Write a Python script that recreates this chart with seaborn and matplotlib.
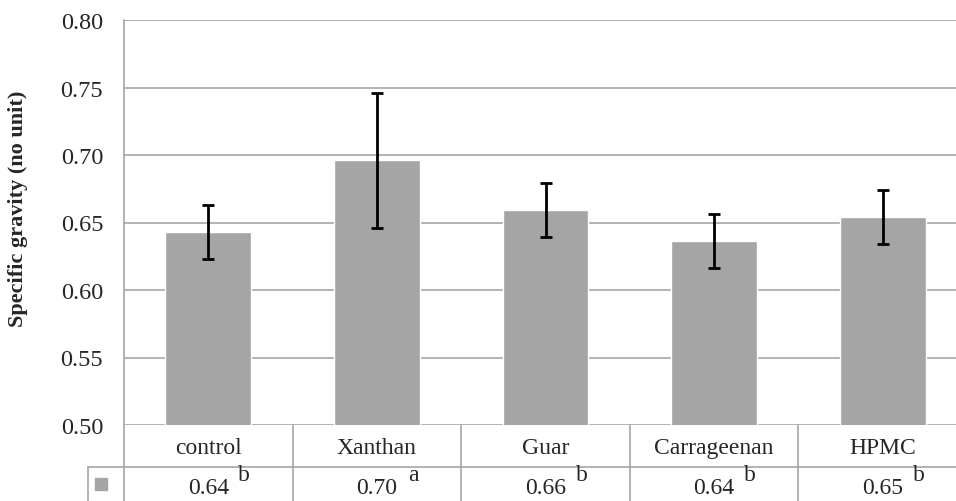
import numpy as np
import pandas as pd
import matplotlib
matplotlib.use("Agg")
import matplotlib.pyplot as plt
import seaborn as sns
from matplotlib.lines import Line2D
from matplotlib.patches import Rectangle

# data
categories = ["control", "Xanthan", "Guar", "Carrageenan", "HPMC"]
means = [0.643, 0.696, 0.659, 0.636, 0.654]
errors = [0.020, 0.050, 0.020, 0.020, 0.020]
table_values = ["0.64", "0.70", "0.66", "0.64", "0.65"]
letters = ["b", "a", "b", "b", "b"]
yticks = [0.50, 0.55, 0.60, 0.65, 0.70, 0.75, 0.80]

sns.set_theme(style="white")
plt.rcParams["font.family"] = ["Liberation Serif", "DejaVu Serif"]

W, H = 956, 502
fig = plt.figure(figsize=(W / 100, H / 100), dpi=100)

# plot area in pixels (right side runs past the image edge, like the source)
left, right, top, bottom = 124, 967, 21, 426
ax = fig.add_axes([left / W, 1 - bottom / H, (right - left) / W, (bottom - top) / H])

bar_color = "#A5A5A5"
grid_color = "#A6A6A6"

df = pd.DataFrame({"treatment": categories, "sg": means})
sns.barplot(data=df, x="treatment", y="sg", color=bar_color, width=0.51,
            saturation=1, errorbar=None, ax=ax, zorder=2)
ax.errorbar(np.arange(len(categories)), means, yerr=errors, fmt="none",
            ecolor="black", elinewidth=2, capsize=4, capthick=2, zorder=3)

ax.set_xlim(-0.5, len(categories) - 0.5)
ax.set_ylim(0.5, 0.8)
ax.set_yticks(yticks)
ax.set_yticklabels([f"{t:.2f}" for t in yticks], fontsize=17.5)
ax.tick_params(axis="y", length=0, pad=15)
ax.set_xticks([])
ax.set_xlabel("")
ax.set_ylabel("")
for t in yticks:
    ax.axhline(t, color=grid_color, lw=1.2, zorder=1)
for s in ["top", "right", "bottom"]:
    ax.spines[s].set_visible(False)
ax.spines["left"].set_color(grid_color)
ax.spines["left"].set_linewidth(1.2)

fig.text(18 / W, 1 - 209 / H, "Specific gravity (no unit)", rotation=90,
         ha="center", va="center", fontsize=16, fontweight="bold")


def px(x, y):
    return x / W, 1 - y / H


# data table below the axis
col_w = (right - left) / len(categories)
row1 = 467.7
for i in range(len(categories) + 1):
    x = left + i * col_w
    xs, ys = zip(px(x, bottom), px(x, H + 5))
    fig.add_artist(Line2D(xs, ys, color=grid_color, lw=1.2))
xs, ys = zip(px(left, row1), px(right, row1))
fig.add_artist(Line2D(xs, ys, color=grid_color, lw=1.2))
xs, ys = zip(px(88, row1), px(left, row1))
fig.add_artist(Line2D(xs, ys, color=grid_color, lw=1.2))
xs, ys = zip(px(88, row1), px(88, H + 5))
fig.add_artist(Line2D(xs, ys, color=grid_color, lw=1.2))
fig.add_artist(Rectangle(px(95, 491), 12 / W, 12 / H, color=bar_color))

for i, (cat, val, let) in enumerate(zip(categories, table_values, letters)):
    cx = left + (i + 0.5) * col_w
    fig.text(*px(cx, 454), cat, ha="center", va="baseline", fontsize=17)
    fig.text(*px(cx, 494), val, ha="center", va="baseline", fontsize=17)
    fig.text(*px(cx + 36, 481), let, ha="center", va="baseline", fontsize=17)

fig.savefig("out.png", dpi=100)
